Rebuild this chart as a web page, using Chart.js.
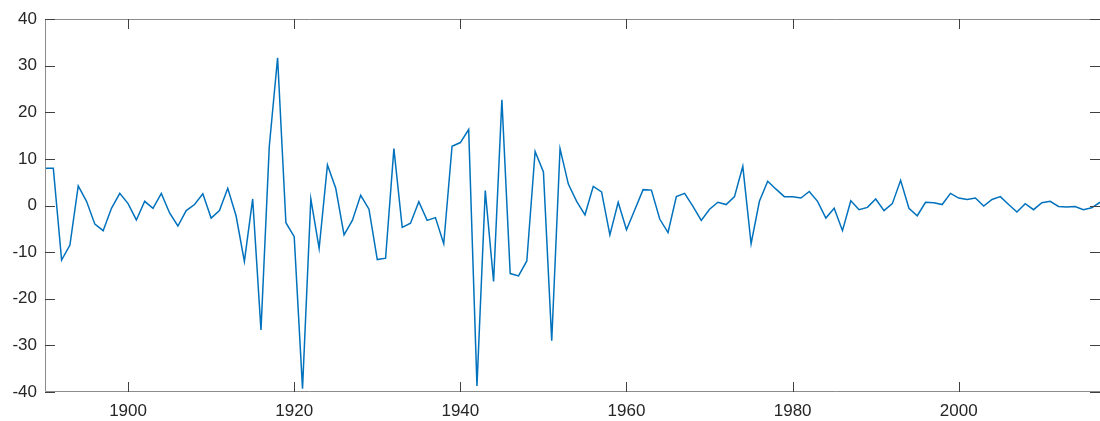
<!DOCTYPE html>
<html>
<head>
<meta charset="utf-8">
<script src="https://cdn.jsdelivr.net/npm/chart.js@4/dist/chart.umd.min.js"></script>
<style>
  html, body { margin: 0; padding: 0; background: #fff; }
  #wrap { width: 1100px; height: 421px; position: relative; }
</style>
</head>
<body>
<div id="wrap"><canvas id="chart"></canvas></div>
<script>
const years = [
  1890, 1891, 1892, 1893, 1894, 1895, 1896, 1897, 1898, 1899,
  1900, 1901, 1902, 1903, 1904, 1905, 1906, 1907, 1908, 1909,
  1910, 1911, 1912, 1913, 1914, 1915, 1916, 1917, 1918, 1919,
  1920, 1921, 1922, 1923, 1924, 1925, 1926, 1927, 1928, 1929,
  1930, 1931, 1932, 1933, 1934, 1935, 1936, 1937, 1938, 1939,
  1940, 1941, 1942, 1943, 1944, 1945, 1946, 1947, 1948, 1949,
  1950, 1951, 1952, 1953, 1954, 1955, 1956, 1957, 1958, 1959,
  1960, 1961, 1962, 1963, 1964, 1965, 1966, 1967, 1968, 1969,
  1970, 1971, 1972, 1973, 1974, 1975, 1976, 1977, 1978, 1979,
  1980, 1981, 1982, 1983, 1984, 1985, 1986, 1987, 1988, 1989,
  1990, 1991, 1992, 1993, 1994, 1995, 1996, 1997, 1998, 1999,
  2000, 2001, 2002, 2003, 2004, 2005, 2006, 2007, 2008, 2009,
  2010, 2011, 2012, 2013, 2014, 2015, 2016, 2017
];

const values = [
  8.0, 8.0, -11.7, -8.5, 4.2, 0.9, -4.0, -5.4, -0.6, 2.6,
  0.4, -3.1, 0.9, -0.6, 2.6, -1.6, -4.4, -1.1, 0.2, 2.5,
  -2.7, -1.1, 3.7, -2.2, -12.0, 1.4, -26.7, 12.7, 31.7, -3.7,
  -6.7, -39.3, 1.4, -9.2, 8.7, 3.7, -6.3, -3.2, 2.2, -0.8,
  -11.6, -11.3, 12.2, -4.7, -3.8, 0.8, -3.2, -2.6, -8.2, 12.7,
  13.5, 16.3, -38.7, 3.2, -16.3, 22.7, -14.6, -15.1, -11.9, 11.6,
  7.2, -29.0, 12.2, 4.6, 0.9, -2.0, 4.1, 2.9, -6.3, 0.7,
  -5.2, -0.9, 3.4, 3.3, -2.9, -5.8, 1.9, 2.6, -0.2, -3.2,
  -0.8, 0.7, 0.2, 1.9, 8.4, -8.2, 0.9, 5.2, 3.5, 1.9,
  1.9, 1.6, 3.0, 0.9, -2.7, -0.6, -5.4, 1.0, -0.9, -0.4,
  1.4, -1.1, 0.4, 5.4, -0.6, -2.2, 0.7, 0.6, 0.2, 2.6,
  1.6, 1.3, 1.6, -0.1, 1.3, 1.9, 0.2, -1.4, 0.4, -0.9,
  0.6, 0.9, -0.2, -0.3, -0.2, -0.9, -0.5, 0.7
];

const xTickValues = [1900, 1920, 1940, 1960, 1980, 2000];
const yTickValues = [-40, -30, -20, -10, 0, 10, 20, 30, 40];

const axisGray = "#8c8c8c";
const tickDark = "#404040";
const labelColor = "#262626";

// MATLAB-like box with ticks pointing inward on all four sides
const boxTicks = {
  id: "boxTicks",
  afterDraw(chart) {
    const { ctx, chartArea: a, scales } = chart;
    const x = scales.x;
    const y = scales.y;
    const len = 10;
    ctx.save();
    ctx.lineWidth = 1;
    ctx.strokeStyle = axisGray;
    ctx.beginPath();
    ctx.moveTo(a.left + 0.5, a.bottom - 0.5);
    ctx.lineTo(a.left + 0.5, a.top + 0.5);
    ctx.lineTo(a.right + 0.5, a.top + 0.5);
    ctx.moveTo(a.left + 0.5, a.bottom - 0.5);
    ctx.lineTo(a.right + 0.5, a.bottom - 0.5);
    ctx.lineTo(a.right + 0.5, a.top + 0.5);
    ctx.stroke();

    ctx.strokeStyle = tickDark;
    ctx.beginPath();
    for (const t of x.ticks) {
      const px = Math.round(x.getPixelForValue(t.value)) + 0.5;
      ctx.moveTo(px, a.bottom);
      ctx.lineTo(px, a.bottom - len);
      ctx.moveTo(px, a.top);
      ctx.lineTo(px, a.top + len);
    }
    for (const t of y.ticks) {
      const py = Math.round(y.getPixelForValue(t.value)) + 0.5;
      ctx.moveTo(a.left, py);
      ctx.lineTo(a.left + len, py);
      ctx.moveTo(a.right, py);
      ctx.lineTo(a.right - len, py);
    }
    ctx.stroke();
    ctx.restore();
  }
};

const points = years.map((yr, i) => ({ x: yr, y: values[i] }));

new Chart(document.getElementById("chart"), {
  type: "line",
  data: {
    datasets: [
      {
        data: points,
        borderColor: "#0072BD",
        borderWidth: 1.5,
        pointRadius: 0,
        tension: 0,
        fill: false,
      },
    ],
  },
  options: {
    responsive: true,
    maintainAspectRatio: false,
    animation: false,
    devicePixelRatio: 1,
    layout: { padding: { top: 19, right: 0, left: 0, bottom: 0 } },
    plugins: { legend: { display: false }, tooltip: { enabled: false } },
    scales: {
      x: {
        type: "linear",
        min: 1890,
        max: 2017,
        afterBuildTicks: (scale) => {
          scale.ticks = xTickValues.map((v) => ({ value: v }));
        },
        afterFit: (scale) => { scale.height = 29; },
        grid: { display: false, drawTicks: false },
        border: { display: false },
        ticks: {
          color: labelColor,
          padding: 9,
          maxRotation: 0,
          font: { family: "Liberation Sans", size: 17 },
          callback: (v) => String(v),
        },
      },
      y: {
        min: -40,
        max: 40,
        afterBuildTicks: (scale) => {
          scale.ticks = yTickValues.map((v) => ({ value: v }));
        },
        afterFit: (scale) => { scale.width = 45; },
        grid: { display: false, drawTicks: false },
        border: { display: false },
        ticks: {
          color: labelColor,
          padding: 8,
          font: { family: "Liberation Sans", size: 17 },
          callback: (v) => String(v),
        },
      },
    },
  },
  plugins: [boxTicks],
});
</script>
</body>
</html>
